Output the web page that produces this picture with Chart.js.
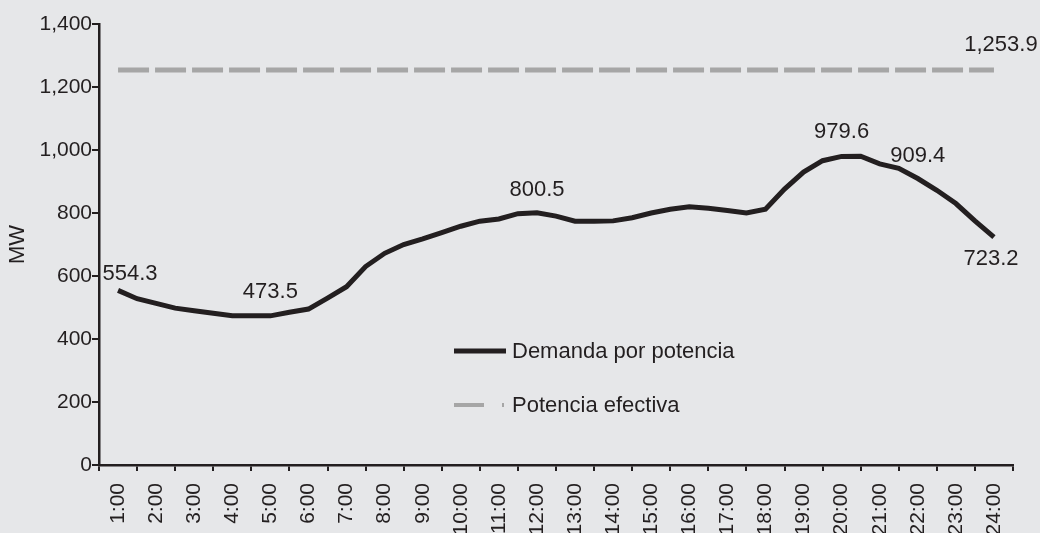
<!DOCTYPE html>
<html>
<head>
<meta charset="utf-8">
<script src="https://cdn.jsdelivr.net/npm/chart.js@4.4.1/dist/chart.umd.min.js"></script>
<style>
  html, body { margin: 0; padding: 0; background: #e6e7e9; }
  #wrap { width: 1040px; height: 533px; }
</style>
</head>
<body>
<div id="wrap"><canvas id="demand-chart" width="1040" height="533"></canvas></div>
<script>
// --- Data ---
const hourLabels = ['1:00', '2:00', '3:00', '4:00', '5:00', '6:00', '7:00', '8:00', '9:00', '10:00', '11:00', '12:00',
    '13:00', '14:00', '15:00', '16:00', '17:00', '18:00', '19:00', '20:00', '21:00', '22:00', '23:00', '24:00'];

// half-hour samples of the demand curve (hour of day)
const demandTimes = [1, 1.5, 2, 2.5, 3, 3.5, 4, 4.5, 5, 5.5, 6, 6.5, 7, 7.5, 8, 8.5, 9, 9.5, 10, 10.5, 11, 11.5,
    12, 12.5, 13, 13.5, 14, 14.5, 15, 15.5, 16, 16.5, 17, 17.5, 18, 18.5, 19, 19.5, 20, 20.5, 21, 21.5, 22, 22.5,
    23, 23.5, 24];
const demandMW = [554.3, 528, 513, 498, 490, 482, 474, 473.5, 473.5, 485, 495, 530, 566, 630, 672, 700, 718, 738,
    758, 774, 781, 798, 800.5, 790, 774, 774, 775, 785, 800, 812, 820, 815, 808, 800, 812, 876, 930, 966, 979.6,
    980, 956, 942, 909.4, 872, 830, 775, 723.2];

const effectiveTimes = [1, 24];
const effectiveMW = [1253.9, 1253.9];

// hours whose values are printed next to the curve
const demandLabelTimes = [1, 5, 12, 20, 22, 24];
const effectiveLabelTimes = [24];

const yMin = 0;
const yMax = 1400;
const yStep = 200;

// --- Styling ---
const FONT = '"Liberation Sans", Arial, sans-serif';
const INK = '#231f20';
const GREY = '#a6a6a6';
const BG = '#e6e7e9';

// label offsets from the point (px), by hour
const labelOffsets = {
    demand: { 1: [12, -16], 5: [0, -24], 12: [0, -23], 20: [0, -24], 22: [0, -23], 24: [-3, 22] },
    effective: { 24: [7, -25] }
};

const fmt = v => v.toLocaleString('en-US', { minimumFractionDigits: 0, maximumFractionDigits: 1 });
const fmt1 = v => v.toLocaleString('en-US', { minimumFractionDigits: 1, maximumFractionDigits: 1 });

const toPoints = (xs, ys) => xs.map((x, i) => ({ x: x, y: ys[i] }));

// background fill
const bgPlugin = {
    id: 'bg',
    beforeDraw(chart) {
        const ctx = chart.ctx;
        ctx.save();
        ctx.fillStyle = BG;
        ctx.fillRect(0, 0, chart.width, chart.height);
        ctx.restore();
    }
};

// value labels next to selected points
const valueLabelPlugin = {
    id: 'valueLabels',
    afterDatasetsDraw(chart) {
        const ctx = chart.ctx;
        ctx.save();
        ctx.font = '22px ' + FONT;
        ctx.fillStyle = INK;
        ctx.textAlign = 'center';
        ctx.textBaseline = 'middle';
        chart.data.datasets.forEach((ds, di) => {
            const meta = chart.getDatasetMeta(di);
            const offs = labelOffsets[ds.key] || {};
            ds.labelTimes.forEach(t => {
                const idx = ds.data.findIndex(p => p.x === t);
                if (idx < 0) return;
                const el = meta.data[idx];
                const o = offs[t] || [0, -22];
                ctx.fillText(fmt1(ds.data[idx].y), el.x + o[0], el.y + o[1]);
            });
        });
        ctx.restore();
    }
};

// legend drawn inside the plot area
const innerLegendPlugin = {
    id: 'innerLegend',
    afterDraw(chart) {
        const ctx = chart.ctx;
        const x0 = 454, rowY = [351, 405];
        ctx.save();
        ctx.font = '22px ' + FONT;
        ctx.textBaseline = 'middle';
        ctx.textAlign = 'left';
        chart.data.datasets.forEach((ds, i) => {
            const y = rowY[i];
            ctx.beginPath();
            ctx.strokeStyle = ds.borderColor;
            ctx.lineWidth = ds.key === 'demand' ? 5 : 4;
            ctx.setLineDash(ds.key === 'demand' ? [] : [30, 18, 2, 100]);
            ctx.moveTo(x0, y);
            ctx.lineTo(x0 + 52, y);
            ctx.stroke();
            ctx.setLineDash([]);
            ctx.fillStyle = INK;
            ctx.fillText(ds.label, x0 + 58, y + 1);
        });
        ctx.restore();
    }
};

const ctx = document.getElementById('demand-chart').getContext('2d');
new Chart(ctx, {
    type: 'line',
    data: {
        labels: hourLabels,
        datasets: [{
            key: 'demand',
            label: 'Demanda por potencia',
            data: toPoints(demandTimes, demandMW),
            labelTimes: demandLabelTimes,
            xAxisID: 'x2',
            borderColor: INK,
            borderWidth: 5,
            pointRadius: 0,
            tension: 0,
            fill: false
        }, {
            key: 'effective',
            label: 'Potencia efectiva',
            data: toPoints(effectiveTimes, effectiveMW),
            labelTimes: effectiveLabelTimes,
            xAxisID: 'x2',
            borderColor: GREY,
            borderWidth: 5,
            borderDash: [31, 6],
            borderCapStyle: 'butt',
            pointRadius: 0,
            fill: false
        }]
    },
    options: {
        responsive: false,
        animation: false,
        devicePixelRatio: 1,
        layout: { padding: { top: 24, right: 27, left: 0, bottom: 0 } },
        plugins: {
            legend: { display: false },
            tooltip: { enabled: false },
            title: { display: false }
        },
        scales: {
            x: {
                type: 'category',
                labels: hourLabels,
                offset: true,
                position: 'bottom',
                grid: {
                    display: true,
                    offset: true,
                    drawOnChartArea: false,
                    drawTicks: true,
                    tickLength: 6,
                    color: INK,
                    lineWidth: 2
                },
                border: { display: true, color: INK, width: 2.5 },
                ticks: {
                    autoSkip: false,
                    minRotation: 90,
                    maxRotation: 90,
                    padding: 12,
                    color: INK,
                    font: { family: FONT, size: 21 }
                },
                afterFit: s => { s.height = 68; }
            },
            x2: {
                type: 'linear',
                display: false,
                min: 0.5,
                max: 24.5
            },
            y: {
                min: yMin,
                max: yMax,
                grid: {
                    display: true,
                    drawOnChartArea: false,
                    drawTicks: true,
                    tickLength: 7,
                    color: INK,
                    lineWidth: 2
                },
                border: { display: true, color: INK, width: 2.5 },
                ticks: {
                    stepSize: yStep,
                    padding: 0,
                    color: INK,
                    font: { family: FONT, size: 21 },
                    callback: v => fmt(v)
                },
                title: {
                    display: true,
                    text: 'MW',
                    color: INK,
                    font: { family: FONT, size: 22 },
                    padding: { top: 5, bottom: 0 }
                },
                afterFit: s => { s.width = 99; }
            }
        }
    },
    plugins: [bgPlugin, valueLabelPlugin, innerLegendPlugin]
});
</script>
</body>
</html>
